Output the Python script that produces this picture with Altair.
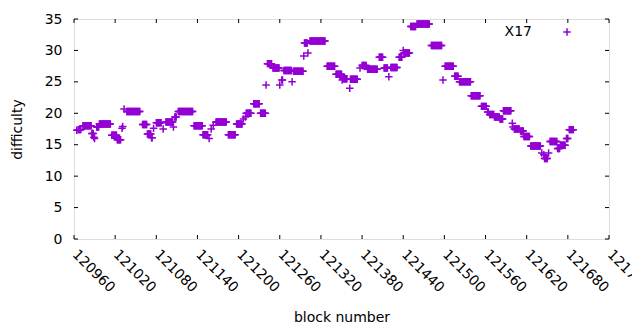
import altair as alt
import pandas as pd

# Runs of blocks sharing the same difficulty (start block, end block, difficulty)
run_start = [120964, 120966, 120973, 120986, 120989, 120990, 120993, 120997, 121015, 121023,
             121030, 121031, 121033, 121037, 121060, 121067, 121073, 121076, 121080, 121090,
             121094, 121105, 121107, 121112, 121135, 121148, 121157, 121160, 121163, 121167,
             121185, 121197, 121207, 121210, 121211, 121222, 121232, 121240, 121242, 121250,
             121260, 121263, 121266, 121278, 121280, 121295, 121296, 121301, 121304, 121329,
             121342, 121351, 121352, 121362, 121363, 121377, 121380, 121388, 121405, 121412,
             121419, 121422, 121434, 121440, 121441, 121451, 121460, 121481, 121498, 121501,
             121515, 121522, 121539, 121554, 121563, 121566, 121573, 121581, 121586, 121599,
             121600, 121602, 121611, 121616, 121626, 121642, 121645, 121646, 121652, 121654,
             121665, 121669, 121678, 121682]
run_end = [120964, 120970, 120985, 120988, 120989, 120990, 120996, 121013, 121022, 121028,
           121030, 121031, 121033, 121056, 121066, 121072, 121074, 121076, 121087, 121090,
           121104, 121105, 121109, 121133, 121147, 121155, 121157, 121160, 121163, 121182,
           121195, 121205, 121207, 121210, 121218, 121230, 121239, 121240, 121248, 121259,
           121260, 121264, 121277, 121278, 121294, 121295, 121300, 121301, 121326, 121340,
           121350, 121351, 121358, 121362, 121373, 121377, 121386, 121402, 121410, 121417,
           121419, 121431, 121438, 121440, 121449, 121458, 121478, 121496, 121498, 121513,
           121520, 121538, 121552, 121561, 121564, 121572, 121580, 121585, 121597, 121599,
           121600, 121609, 121615, 121624, 121640, 121642, 121645, 121650, 121652, 121664,
           121668, 121676, 121680, 121688]
run_value = [17.3, 17.4, 18.0, 16.8, 16.2, 16.0, 17.8, 18.3, 16.5, 15.8,
             17.6, 17.9, 20.7, 20.3, 18.2, 16.7, 16.1, 17.6, 18.5, 17.5,
             18.6, 17.8, 19.4, 20.3, 18.0, 16.6, 16.0, 17.5, 18.1, 18.6,
             16.6, 18.3, 19.1, 19.4, 20.0, 21.5, 20.0, 24.5, 27.9, 27.2,
             24.5, 25.3, 26.8, 25.0, 26.7, 29.1, 31.2, 29.6, 31.5, 27.5,
             26.2, 25.3, 25.5, 24.0, 25.4, 27.2, 27.6, 27.0, 28.9, 27.2,
             25.8, 27.3, 28.9, 30.0, 29.6, 33.8, 34.2, 30.8, 25.3, 27.5,
             25.9, 25.0, 22.8, 21.1, 20.2, 19.8, 19.4, 19.1, 20.4, 18.4,
             17.8, 17.5, 17.2, 16.3, 14.8, 13.7, 13.4, 12.8, 13.7, 15.5,
             14.4, 14.9, 16.0, 17.4]

series_name = "X17"
x_tick_values = list(range(120960, 121741, 60))
y_tick_values = list(range(0, 36, 5))

rows = []
for s, e, v in zip(run_start, run_end, run_value):
    for b in range(s, e + 1):
        rows.append({"block": b, "difficulty": v, "series": series_name})
df = pd.DataFrame(rows)

W, H = 535, 220
TL = 4
FONT = "DejaVu Sans"
FS = 14
PLUS = "M-1,0H1M0,-1V1"
COLOR = "#9400D3"

x_scale = alt.Scale(domain=[120960, 121740], nice=False, zero=False)
y_scale = alt.Scale(domain=[0, 35], nice=False)

x_axis = alt.Axis(values=x_tick_values, title="block number", grid=False, ticks=False,
                  tickSize=0, domain=False, labelAngle=45, labelAlign="left",
                  labelBaseline="middle", labelPadding=13,
                  labelFontSize=FS, labelFont=FONT,
                  labelColor="black", labelOverlap=False, labelBound=False, labelFlush=False,
                  titleFont=FONT, titleFontSize=FS, titleFontWeight="normal",
                  titleColor="black", titleBaseline="alphabetic", titleY=82, format="d")
y_axis = alt.Axis(values=y_tick_values, title="difficulty", grid=False, ticks=False,
                  tickSize=0, domain=False, labelPadding=12, labelFontSize=FS,
                  labelFont=FONT, labelColor="black", titleFont=FONT, titleFontSize=FS,
                  titleFontWeight="normal", titleColor="black",
                  titleBaseline="alphabetic", titleX=-53)

x_enc = alt.X("block:Q", scale=x_scale, axis=x_axis)
y_enc = alt.Y("difficulty:Q", scale=y_scale, axis=y_axis)

points = alt.Chart(df).mark_point(shape=PLUS, filled=False, size=56, strokeWidth=1.5,
                                  opacity=1, color=COLOR).encode(x=x_enc, y=y_enc)

xt = pd.DataFrame({"block": x_tick_values})
yt = pd.DataFrame({"difficulty": y_tick_values})

xt_bottom = alt.Chart(xt).mark_rule(color="black", strokeWidth=1).encode(
    x=x_enc, y=alt.value(H), y2=alt.value(H - TL))
xt_top = alt.Chart(xt).mark_rule(color="black", strokeWidth=1).encode(
    x=x_enc, y=alt.value(0), y2=alt.value(TL))
yt_left = alt.Chart(yt).mark_rule(color="black", strokeWidth=1).encode(
    y=y_enc, x=alt.value(0), x2=alt.value(TL))
yt_right = alt.Chart(yt).mark_rule(color="black", strokeWidth=1).encode(
    y=y_enc, x=alt.value(W - TL), x2=alt.value(W))

# legend (gnuplot style: label then sample symbol)
leg_df = pd.DataFrame({"series": [series_name]})
leg_text = alt.Chart(leg_df).mark_text(align="right", baseline="middle", font=FONT,
                                       fontSize=FS, color="black").encode(
    text="series:N", x=alt.value(458), y=alt.value(13))
leg_sym = alt.Chart(leg_df).mark_point(shape=PLUS, filled=False, size=56, strokeWidth=1.5,
                                       opacity=1, color=COLOR).encode(
    x=alt.value(493), y=alt.value(13))

chart = alt.layer(points, xt_bottom, xt_top, yt_left, yt_right, leg_text, leg_sym).properties(
    width=W, height=H,
    autosize=alt.AutoSizeParams(type="none"),
    padding={"left": 66, "top": 11, "right": 23, "bottom": 88},
).configure_view(stroke="black", strokeWidth=1).configure(background="white")

chart.save("out.html", embed_options={"renderer": "svg", "actions": False})
